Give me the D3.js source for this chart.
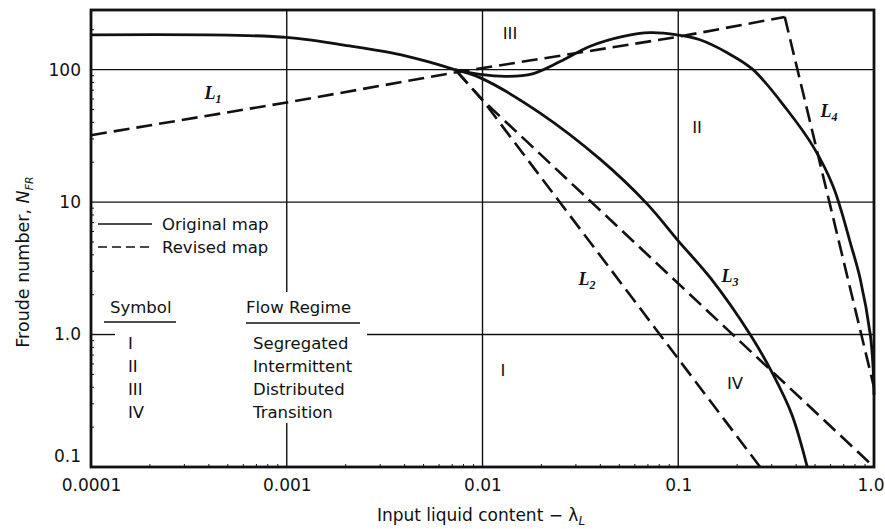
<!DOCTYPE html>
<html lang="en">
<head>
  <meta charset="UTF-8">
  <title>Flow regime map</title>
  <script src="https://d3js.org/d3.v7.min.js"></script>
  <style>
    body { margin: 0; background: #fff; }
    svg text { font-family: "DejaVu Sans", Arial, sans-serif; fill: #111; }
    .grid { stroke: #111; stroke-width: 1.4; }
    .frame { fill: none; stroke: #111; stroke-width: 2.8; }
    .orig { fill: none; stroke: #111; stroke-width: 2.8; }
    .rev { fill: none; stroke: #111; stroke-width: 2.6; stroke-dasharray: 16,7; }
    .tick { font-size: 17px; }
    .lab { font-size: 16.5px; }
    .title { font-size: 17px; }
    .lname { font-family: "Liberation Serif", "Times New Roman", serif; font-style: italic; font-weight: bold; font-size: 18px; }
  </style>
</head>
<body>
  <div id="chart"></div>
  <script>
    // axis ticks
    const xTicks = [0.0001, 0.001, 0.01, 0.1, 1];
    const xTickLabels = ["0.0001", "0.001", "0.01", "0.1", "1.0"];
    const yTicks = [0.1, 1, 10, 100];
    const yTickLabels = ["0.1", "1.0", "10", "100"];

    // original map (solid) boundaries, [lambda, N_FR]
    const origL1 = [[0.0001, 183], [0.0005, 182], [0.001, 175], [0.0021, 151], [0.0038, 130], [0.0056, 112], [0.0072, 100]];
    const origL2 = [[0.0072, 100], [0.0097, 92], [0.0134, 89], [0.018, 93], [0.0249, 115], [0.0355, 150], [0.0523, 178],
                    [0.0718, 190], [0.0987, 183], [0.129, 168], [0.178, 134], [0.241, 100], [0.359, 50], [0.491, 26],
                    [0.62, 13], [0.764, 4.7], [0.85, 2.64], [0.957, 1.0], [0.99, 0.56], [1.0, 0.35]];
    const origL3 = [[0.0072, 100], [0.0097, 87], [0.0197, 47], [0.040, 21], [0.0693, 9.7], [0.1, 5.1], [0.147, 2.64],
                    [0.233, 1.0], [0.305, 0.5], [0.38, 0.25], [0.456, 0.1]];

    // revised map (dashed) boundaries
    const revL1 = [[0.0001, 32], [0.001, 56.5], [0.0072, 95], [0.1, 177], [0.35, 250]];
    const revL4 = [[0.35, 250], [1.0, 0.4]];
    const revL2 = [[0.0074, 97], [0.01, 59], [0.262, 0.1]];
    const revL3 = [[0.0074, 97], [0.01, 59], [1.0, 0.1]];

    // regime table
    const symbols = ["I", "II", "III", "IV"];
    const regimes = ["Segregated", "Intermittent", "Distributed", "Transition"];

    const W = 885, H = 529;
    const svg = d3.select("#chart").append("svg")
      .attr("width", W).attr("height", H);

    const x = d3.scaleLog().domain([0.0001, 1]).range([91, 874]);
    const y = d3.scaleLog().domain([0.1, 282]).range([467, 10]);

    // grid lines (some are broken around the legend)
    const g = svg.append("g");
    g.append("line").attr("class", "grid")
      .attr("x1", x(0.001)).attr("x2", x(0.001)).attr("y1", y.range()[1]).attr("y2", 292);
    g.append("line").attr("class", "grid")
      .attr("x1", x(0.001)).attr("x2", x(0.001)).attr("y1", 423).attr("y2", y.range()[0]);
    [0.01, 0.1].forEach(v => {
      g.append("line").attr("class", "grid")
        .attr("x1", x(v)).attr("x2", x(v)).attr("y1", y.range()[1]).attr("y2", y.range()[0]);
    });
    [10, 100].forEach(v => {
      g.append("line").attr("class", "grid")
        .attr("x1", x.range()[0]).attr("x2", x.range()[1]).attr("y1", y(v)).attr("y2", y(v));
    });
    g.append("line").attr("class", "grid")
      .attr("x1", x.range()[0]).attr("x2", 115).attr("y1", y(1)).attr("y2", y(1));
    g.append("line").attr("class", "grid")
      .attr("x1", 367).attr("x2", x.range()[1]).attr("y1", y(1)).attr("y2", y(1));

    // axes
    const xAxis = d3.axisBottom(x).tickValues(xTicks).tickSize(0).tickPadding(12)
      .tickFormat((d, i) => xTickLabels[i]);
    const xa = svg.append("g").attr("transform", `translate(0,${y.range()[0]})`).call(xAxis);
    xa.select(".domain").remove();
    xa.selectAll("text").attr("class", "tick");
    // last label sits against the right edge
    xa.selectAll(".tick").filter(d => d === 1).select("text").attr("text-anchor", "end").attr("x", 10);

    const yAxis = d3.axisLeft(y).tickValues(yTicks).tickSize(0).tickPadding(10)
      .tickFormat((d, i) => yTickLabels[i]);
    const ya = svg.append("g").attr("transform", `translate(${x.range()[0]},0)`).call(yAxis);
    ya.select(".domain").remove();
    ya.selectAll("text").attr("class", "tick");
    ya.selectAll(".tick").filter(d => d === 0.1).select("text").attr("dy", "-0.3em");
    d3.selectAll("svg > g").attr("font-size", null).attr("font-family", null);

    // minor ticks on the frame
    const minorX = [];
    for (let e = -4; e < 0; e++) for (let m = 2; m < 10; m++) minorX.push(m * Math.pow(10, e));
    const minorY = [];
    for (let e = -1; e < 3; e++) for (let m = 2; m < 10; m++) if (m * Math.pow(10, e) < 282) minorY.push(m * Math.pow(10, e));
    svg.append("g").selectAll("line").data(minorX).join("line")
      .attr("x1", d => x(d)).attr("x2", d => x(d)).attr("y1", y.range()[0]).attr("y2", y.range()[0] - 3)
      .attr("stroke", "#111").attr("stroke-width", 1);
    svg.append("g").selectAll("line").data(minorY).join("line")
      .attr("y1", d => y(d)).attr("y2", d => y(d)).attr("x1", x.range()[0]).attr("x2", x.range()[0] + 3)
      .attr("stroke", "#111").attr("stroke-width", 1);

    // curves
    const smooth = d3.line().x(d => x(d[0])).y(d => y(d[1])).curve(d3.curveCatmullRom.alpha(0.5));
    const straight = d3.line().x(d => x(d[0])).y(d => y(d[1]));
    [origL1, origL2, origL3].forEach(c => svg.append("path").attr("class", "orig").attr("d", smooth(c)));
    [revL1, revL4, revL2, revL3].forEach(c => svg.append("path").attr("class", "rev").attr("d", straight(c)));

    // frame
    svg.append("rect").attr("class", "frame")
      .attr("x", x.range()[0]).attr("y", y.range()[1])
      .attr("width", x.range()[1] - x.range()[0]).attr("height", y.range()[0] - y.range()[1]);

    // line names
    const lnames = [["L", "1", 213, 99], ["L", "2", 587, 285], ["L", "3", 730, 282], ["L", "4", 829, 117]];
    lnames.forEach(([a, b, px, py]) => {
      const t = svg.append("text").attr("class", "lname").attr("x", px).attr("y", py).attr("text-anchor", "middle");
      t.append("tspan").text(a);
      t.append("tspan").attr("font-size", "12px").attr("dy", 4).text(b);
    });

    // regime labels in the plot
    const regionLabels = [["III", 510, 33], ["II", 697, 127], ["I", 503, 370], ["IV", 735, 383]];
    regionLabels.forEach(([s, px, py]) => {
      svg.append("text").attr("class", "lab").attr("x", px).attr("y", py).attr("dy", "0.35em")
        .attr("text-anchor", "middle").text(s);
    });

    // legend
    svg.append("line").attr("x1", 98).attr("x2", 152).attr("y1", 224).attr("y2", 224)
      .attr("stroke", "#111").attr("stroke-width", 1.6);
    svg.append("line").attr("x1", 98).attr("x2", 152).attr("y1", 247).attr("y2", 247)
      .attr("stroke", "#111").attr("stroke-width", 1.6).attr("stroke-dasharray", "9,5");
    svg.append("text").attr("class", "lab").attr("x", 162).attr("y", 224).attr("dy", "0.35em").text("Original map");
    svg.append("text").attr("class", "lab").attr("x", 162).attr("y", 247).attr("dy", "0.35em").text("Revised map");

    // symbol table
    svg.append("text").attr("class", "lab").attr("x", 110).attr("y", 307).attr("dy", "0.35em").text("Symbol");
    svg.append("text").attr("class", "lab").attr("x", 246).attr("y", 307).attr("dy", "0.35em").text("Flow Regime");
    svg.append("line").attr("x1", 104).attr("x2", 176).attr("y1", 322).attr("y2", 322).attr("stroke", "#111").attr("stroke-width", 1.4);
    svg.append("line").attr("x1", 246).attr("x2", 360).attr("y1", 323).attr("y2", 323).attr("stroke", "#111").attr("stroke-width", 1.4);
    symbols.forEach((s, i) => {
      svg.append("text").attr("class", "lab").attr("x", 128).attr("y", 343 + i * 23).attr("dy", "0.35em").text(s);
      svg.append("text").attr("class", "lab").attr("x", 253).attr("y", 343 + i * 23).attr("dy", "0.35em").text(regimes[i]);
    });

    // axis titles
    const xt = svg.append("text").attr("class", "title").attr("x", 481).attr("y", 521).attr("text-anchor", "middle");
    xt.append("tspan").text("Input liquid content \u2212 \u03bb");
    xt.append("tspan").attr("font-size", "12px").attr("font-style", "italic").attr("dy", 4).text("L");

    const yt = svg.append("text").attr("class", "title").attr("text-anchor", "middle")
      .attr("transform", "translate(29,262) rotate(-90)").style("font-size", "17.5px");
    yt.append("tspan").text("Froude number, ");
    yt.append("tspan").attr("font-style", "italic").text("N");
    yt.append("tspan").attr("font-size", "11px").attr("font-style", "italic").attr("dy", 4).text("FR");
  </script>
</body>
</html>
